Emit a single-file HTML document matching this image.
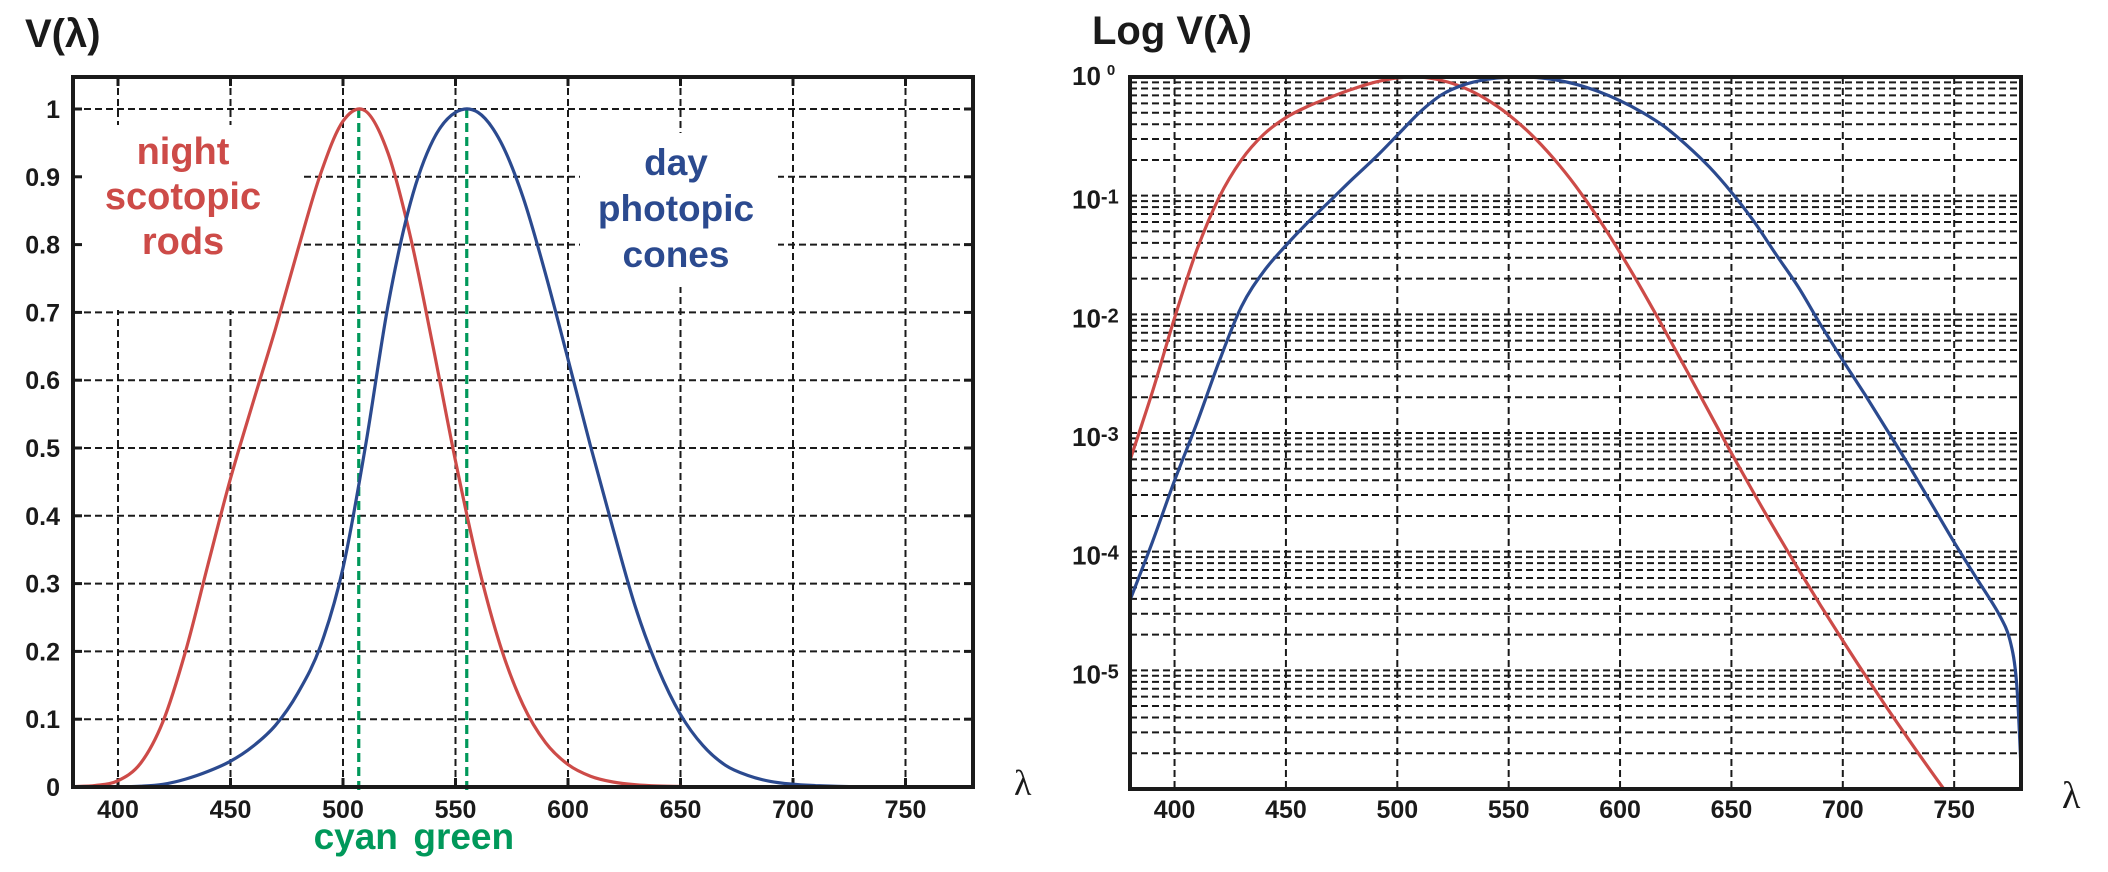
<!DOCTYPE html>
<html><head><meta charset="utf-8">
<style>
html,body{margin:0;padding:0;background:#fff;}
svg{display:block;font-family:"Liberation Sans",Arial,sans-serif;}
</style></head>
<body>
<svg id="chart" width="2108" height="872" viewBox="0 0 2108 872" xmlns="http://www.w3.org/2000/svg">
  <g id="left"></g>
  <g id="right"></g>
</svg>
<script>
// ---- data ----
const wavelengths = [380,390,400,410,420,430,440,450,460,470,480,490,500,510,520,530,540,550,560,570,580,590,600,610,620,630,640,650,660,670,680,690,700,710,720,730,740,750,760,770,775,778,780];
const photopicValues = [0.000039,0.00012,0.000396,0.00121,0.004,0.0116,0.023,0.038,0.06,0.091,0.139,0.208,0.323,0.503,0.71,0.862,0.954,0.995,0.995,0.952,0.87,0.757,0.631,0.503,0.381,0.265,0.175,0.107,0.061,0.032,0.017,0.0082,0.0041,0.0021,0.00105,0.00052,0.00025,0.00012,0.00006,0.00003,0.000018,0.000008,0.0000015];
const scotopicWavelengths = [380,390,400,410,420,430,440,450,460,470,480,490,500,510,520,530,540,550,560,570,580,590,600,610,620,630,640,650,660,670,680,690,700,710,720,730,740,750,760,770,780];
const scotopicValues = [0.000589,0.002209,0.00929,0.03484,0.0966,0.1998,0.3281,0.455,0.567,0.676,0.793,0.904,0.982,0.997,0.935,0.811,0.65,0.481,0.3288,0.2076,0.1212,0.0655,0.03315,0.01593,0.00737,0.003335,0.001497,0.000677,0.0003129,0.000148,0.0000715,0.00003533,0.0000178,0.00000914,0.00000478,0.000002546,0.000001379,0.00000076,0.000000425,0.000000241,0.000000139];
const xTicks = [400,450,500,550,600,650,700,750];
const yTicksLinear = [0,0.1,0.2,0.3,0.4,0.5,0.6,0.7,0.8,0.9,1];
const yTickLabelsLinear = ["0","0.1","0.2","0.3","0.4","0.5","0.6","0.7","0.8","0.9","1"];
const logDecades = [0,-1,-2,-3,-4,-5,-6];
const logLabelExps = ["0","-1","-2","-3","-4","-5"];
const markerWavelengths = [507,555];
const markerLabels = ["cyan","green"];

const NS="http://www.w3.org/2000/svg";
const RED="#cd4b48", BLUE="#2b4a8f", GREEN="#00985a";
function mk(parent,tag,attrs,text){const e=document.createElementNS(NS,tag);for(const k in attrs)e.setAttribute(k,attrs[k]);if(text!==undefined)e.textContent=text;parent.appendChild(e);return e;}

const L={x0:73,x1:973,y0:787,y1:77};
const R={x0:1130,x1:2021,y0:789,y1:77};
const lx=v=>L.x0+(v-380)/400*(L.x1-L.x0);
const ly=v=>787-v*678;
const rx=v=>R.x0+(v-380)/400*(R.x1-R.x0);
const ry=v=>R.y1+(-Math.log10(v))/6*(R.y0-R.y1);

function smoothPath(pts){
  let d="M"+pts[0][0].toFixed(1)+","+pts[0][1].toFixed(1);
  for(let i=0;i<pts.length-1;i++){
    const p0=pts[i-1]||pts[i],p1=pts[i],p2=pts[i+1],p3=pts[i+2]||p2;
    const c1=[p1[0]+(p2[0]-p0[0])/6,p1[1]+(p2[1]-p0[1])/6];
    const c2=[p2[0]-(p3[0]-p1[0])/6,p2[1]-(p3[1]-p1[1])/6];
    d+=" C"+c1[0].toFixed(1)+","+c1[1].toFixed(1)+" "+c2[0].toFixed(1)+","+c2[1].toFixed(1)+" "+p2[0].toFixed(1)+","+p2[1].toFixed(1);
  }
  return d;
}
const gridStyle={stroke:"#1a1a1a","stroke-width":"2","stroke-dasharray":"7,4",fill:"none"};

// ===== LEFT =====
const gl=document.getElementById('left');
const cpl=mk(mk(gl,'defs',{}),'clipPath',{id:'clipL'});
mk(cpl,'rect',{x:L.x0,y:L.y1,width:L.x1-L.x0,height:L.y0-L.y1});
xTicks.forEach(t=>{
  const g=mk(gl,'line',Object.assign({x1:lx(t),x2:lx(t),y1:L.y1,y2:L.y0},gridStyle));
  
  
  const lab=mk(gl,'text',{x:lx(t),y:818,'text-anchor':'middle','font-size':'25','font-weight':'bold',fill:'#1a1a1a'},String(t));
  
  
});
yTicksLinear.forEach((t,i)=>{
  if(t>0){
    const g=mk(gl,'line',Object.assign({x1:L.x0,x2:L.x1,y1:ly(t),y2:ly(t)},gridStyle));
    
    
  }
  const lab=mk(gl,'text',{x:60,y:ly(t)+9,'text-anchor':'end','font-size':'25','font-weight':'bold',fill:'#1a1a1a'},yTickLabelsLinear[i]);
  
  
});
mk(gl,'rect',{x:L.x0+2,y:125,width:227,height:185,fill:'#fff'});
mk(gl,'rect',{x:580,y:133,width:198,height:154,fill:'#fff'});
xTicks.forEach(t=>{mk(gl,'line',{x1:lx(t),x2:lx(t),y1:L.y0,y2:L.y0-9,stroke:'#1a1a1a','stroke-width':3});mk(gl,'line',{x1:lx(t),x2:lx(t),y1:L.y1,y2:L.y1+9,stroke:'#1a1a1a','stroke-width':3});});
yTicksLinear.forEach(t=>{mk(gl,'line',{x1:L.x0,x2:L.x0+9,y1:ly(t),y2:ly(t),stroke:'#1a1a1a','stroke-width':3});mk(gl,'line',{x1:L.x1,x2:L.x1-9,y1:ly(t),y2:ly(t),stroke:'#1a1a1a','stroke-width':3});});
markerWavelengths.forEach((w,i)=>{
  const m=mk(gl,'line',{x1:lx(w),x2:lx(w),y1:ly(1),y2:L.y0+6,stroke:GREEN,'stroke-width':3.2,'stroke-dasharray':'9,5'});
  
  
  const t=mk(gl,'text',{x:lx(w)-3,y:849,'text-anchor':'middle','font-size':'37','font-weight':'bold',fill:GREEN},markerLabels[i]);
  
  
});
const gcL=mk(gl,'g',{'clip-path':'url(#clipL)'});
const sL=mk(gcL,'path',{d:smoothPath(scotopicWavelengths.map((w,i)=>[lx(w),ly(scotopicValues[i])])),stroke:RED,'stroke-width':3.2,fill:'none'});


const pL=mk(gcL,'path',{d:smoothPath(wavelengths.map((w,i)=>[lx(w),ly(photopicValues[i])])),stroke:BLUE,'stroke-width':3.2,fill:'none'});


const fL=mk(gl,'rect',{x:L.x0,y:L.y1,width:L.x1-L.x0,height:L.y0-L.y1,fill:'none',stroke:'#1a1a1a','stroke-width':4});


[["night",164],["scotopic",209],["rods",254]].forEach(a=>{const t=mk(gl,'text',{x:183,y:a[1],'text-anchor':'middle','font-size':'38','font-weight':'bold',fill:RED},a[0]);});
[["day",175],["photopic",221],["cones",267]].forEach(a=>{const t=mk(gl,'text',{x:676,y:a[1],'text-anchor':'middle','font-size':'37','font-weight':'bold',fill:BLUE},a[0]);});
let tt=mk(gl,'text',{x:25,y:47,'font-size':'40','font-weight':'bold',fill:'#1a1a1a'},'V(λ)');


tt=mk(gl,'text',{x:1014,y:795,'font-size':'36',fill:'#1a1a1a','font-family':'"Liberation Serif",serif'},'λ');



// ===== RIGHT =====
const gr=document.getElementById('right');
const cp=mk(mk(gr,'defs',{}),'clipPath',{id:'clipR'});
mk(cp,'rect',{x:R.x0,y:R.y1,width:R.x1-R.x0,height:R.y0-R.y1});
xTicks.forEach(t=>{
  const g=mk(gr,'line',Object.assign({x1:rx(t),x2:rx(t),y1:R.y1,y2:R.y0},gridStyle));
  
  
  const lab=mk(gr,'text',{x:rx(t),y:818,'text-anchor':'middle','font-size':'25','font-weight':'bold',fill:'#1a1a1a'},String(t));
  
  
});
logDecades.forEach((d,i)=>{
  if(d>-6){
    for(let m=1;m<10;m++){
      const v=m*Math.pow(10,d-1);
      const g=mk(gr,'line',Object.assign({x1:R.x0,x2:R.x1,y1:ry(v),y2:ry(v)},gridStyle));
      
      
    }
  }
  if(i<logLabelExps.length){
    const t=mk(gr,'text',{x:1072,y:ry(Math.pow(10,d))+(d===0?8:13),'font-size':'26','font-weight':'bold',fill:'#1a1a1a'});
    
    
    mk(t,'tspan',{},'10');
    if(d===0) mk(t,'tspan',{dy:'-10','font-size':'15',dx:'6'},logLabelExps[i]);
    else mk(t,'tspan',{dy:'-5','font-size':'20'},logLabelExps[i]);
  }
});
const gcR=mk(gr,'g',{'clip-path':'url(#clipR)'});
const sR=mk(gcR,'path',{d:smoothPath(scotopicWavelengths.map((w,i)=>[rx(w),ry(scotopicValues[i])])),stroke:RED,'stroke-width':3.2,fill:'none'});


const pR=mk(gcR,'path',{d:smoothPath(wavelengths.map((w,i)=>[rx(w),ry(photopicValues[i])])),stroke:BLUE,'stroke-width':3.2,fill:'none'});


const fR=mk(gr,'rect',{x:R.x0,y:R.y1,width:R.x1-R.x0,height:R.y0-R.y1,fill:'none',stroke:'#1a1a1a','stroke-width':4});


tt=mk(gr,'text',{x:1092,y:44,'font-size':'40','font-weight':'bold',fill:'#1a1a1a'},'Log V(λ)');


tt=mk(gr,'text',{x:2062,y:808,'font-size':'38',fill:'#1a1a1a','font-family':'"Liberation Serif",serif'},'λ');


</script>
</body></html>
